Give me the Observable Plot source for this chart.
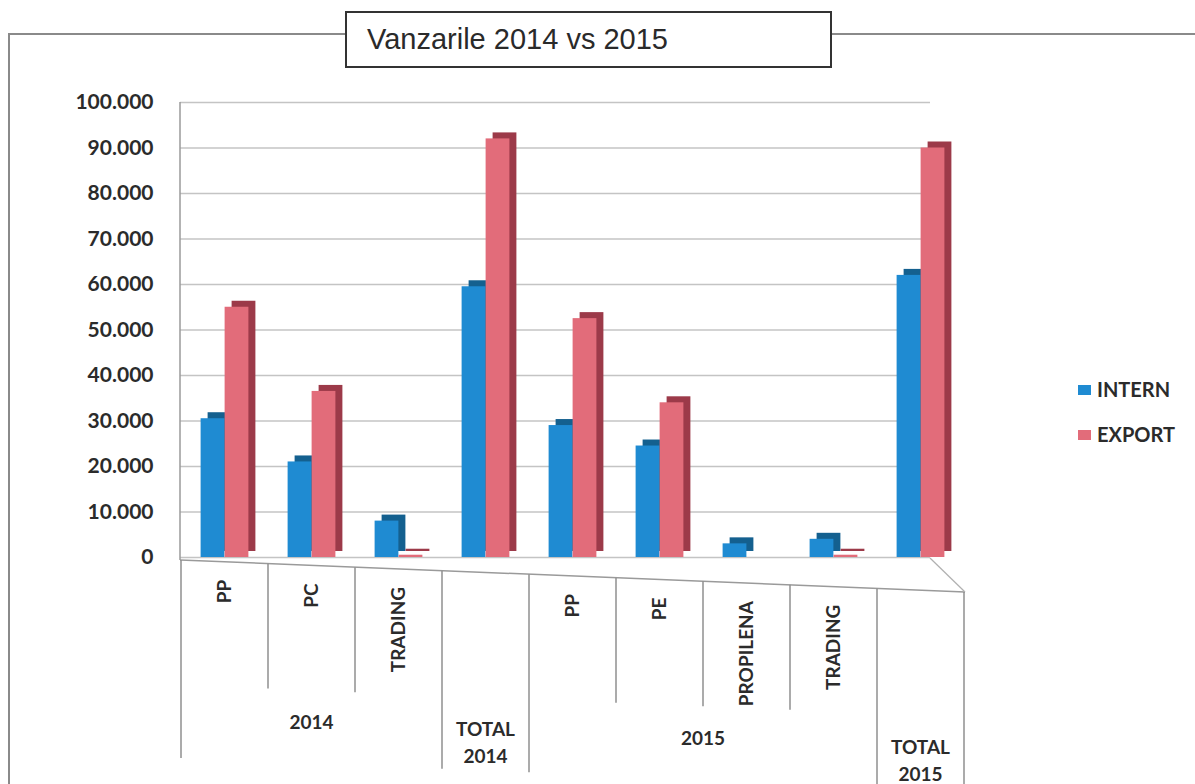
<!DOCTYPE html>
<html>
<head>
<meta charset="utf-8">
<script src="https://cdn.jsdelivr.net/npm/d3@7"></script>
<script src="https://cdn.jsdelivr.net/npm/@observablehq/plot@0.6"></script>
<style>
  body { margin: 0; background: #fff; }
  #wrap { position: relative; width: 1195px; height: 784px; overflow: hidden; font-family: Lato, sans-serif; }
  #chart { position: absolute; left: 0; top: 0; }
  #border { position: absolute; left: 8px; top: 33px; width: 1300px; height: 900px;
            border-left: 2px solid #8a8a8a; border-top: 2px solid #8a8a8a; }
  #title { position: absolute; left: 345px; top: 11px; width: 487px; height: 57px; box-sizing: border-box;
           border: 2px solid #333; background: #fff; font-family: "Liberation Sans", Arial, sans-serif;
           font-size: 29px; color: #2a2a2a; line-height: 52px; padding-left: 20px; }
  #legend { position: absolute; left: 1078px; top: 375px; font-family: Lato, sans-serif; font-weight: bold;
            font-size: 20px; color: #2b2b2b; }
  #legend div { height: 28px; line-height: 28px; margin-bottom: 17px; white-space: nowrap; }
  #legend span.sw { display: inline-block; width: 13px; height: 10px; margin-right: 6px; vertical-align: 2px; }
</style>
</head>
<body>
<div id="wrap">
  <div id="border"></div>
  <div id="chart"></div>
  <div id="title">Vanzarile 2014 vs 2015</div>
  <div id="legend"></div>
</div>
<script>
// ---- data ----
const groups = ["2014", "2014", "2014", "TOTAL 2014", "2015", "2015", "2015", "2015", "TOTAL 2015"];
const categories = ["PP", "PC", "TRADING", "", "PP", "PE", "PROPILENA", "TRADING", ""];
const intern = [30500, 21000, 8000, 59500, 29000, 24500, 3000, 4000, 62000];
const exportVals = [55000, 36500, 500, 92000, 52500, 34000, 0, 500, 90000];
const seriesNames = ["INTERN", "EXPORT"];
const yTicks = [0, 10000, 20000, 30000, 40000, 50000, 60000, 70000, 80000, 90000, 100000];

// ---- build ----
const keys = categories.map((c, i) => groups[i] + "|" + c + "|" + i);
const rows = keys.map((k, i) => ({key: k, intern: intern[i], export: exportVals[i]}));

const W = 1195, H = 784, ML = 180, MR = 230, MT = 102, MB = 227;
const step = (W - ML - MR) / keys.length;
const barW = 24, depthX = 7, depthY = 6;
const colors = {INTERN: "#1f8bd2", EXPORT: "#e26c7a"};
const dark = {INTERN: "#14608f", EXPORT: "#9c3a49"};
const fmt = d => d3.format(",")(d).replace(/,/g, ".");

function decorations(index, scales, values, dims) {
  const x = scales.x;
  const bw = x.bandwidth ? x.bandwidth() : step;
  const L = dims.marginLeft, R = dims.width - dims.marginRight;
  const y0 = dims.height - dims.marginBottom;
  const tilt = px => (px - L) / (R - L) * 32;
  const g = d3.create("svg:g");
  // vertical axis line
  g.append("line").attr("x1", L).attr("x2", L).attr("y1", dims.marginTop).attr("y2", y0 + 3)
    .attr("stroke", "#9a9a9a").attr("stroke-width", 1.5);
  // floor front edge
  g.append("line").attr("x1", L).attr("y1", y0 + 3).attr("x2", R).attr("y2", y0 + 3 + tilt(R))
    .attr("stroke", "#9a9a9a").attr("stroke-width", 1.5);
  g.append("line").attr("x1", R - 35).attr("y1", y0 + 1).attr("x2", R).attr("y2", y0 + 3 + tilt(R))
    .attr("stroke", "#b0b0b0").attr("stroke-width", 1.2);
  // dividers
  const bounds = keys.map((k, i) => ({px: x(k), major: i === 0 || groups[i] !== groups[i - 1]}));
  bounds.push({px: x(keys[keys.length - 1]) + bw, major: true});
  for (const b of bounds) {
    g.append("line").attr("x1", b.px).attr("x2", b.px)
      .attr("y1", y0 + 3 + tilt(b.px)).attr("y2", y0 + (b.major ? 201 : 128) + tilt(b.px))
      .attr("stroke", "#8f8f8f").attr("stroke-width", 1.5);
  }
  const tg = g.append("g").attr("font-family", "Lato, sans-serif").attr("font-weight", "bold")
    .attr("fill", "#2b2b2b").attr("font-size", 19);
  // category labels (rotated)
  keys.forEach((k, i) => {
    if (!categories[i]) return;
    const cx = x(k) + bw / 2;
    tg.append("text").attr("transform", `translate(${cx},${y0 + 21 + tilt(cx)}) rotate(-90)`)
      .attr("text-anchor", "end").attr("dy", "0.36em").text(categories[i]);
  });
  // group labels
  let start = 0;
  for (let i = 1; i <= keys.length; i++) {
    if (i === keys.length || groups[i] !== groups[start]) {
      const x1 = x(keys[start]), x2 = x(keys[i - 1]) + bw;
      const cx = (x1 + x2) / 2;
      const lines = groups[start].split(" ");
      lines.forEach((t, j) => {
        tg.append("text").attr("x", cx).attr("y", y0 + 160 + j * 27 + tilt(cx))
          .attr("text-anchor", "middle").attr("dy", "0.36em").text(t);
      });
      start = i;
    }
  }
  return g.node();
}

const chart = Plot.plot({
  width: W, height: H,
  marginLeft: ML, marginRight: MR, marginTop: MT, marginBottom: MB,
  style: {background: "transparent", fontFamily: "Lato, sans-serif", fontSize: "21px", color: "#2b2b2b"},
  x: {domain: keys, padding: 0, axis: null},
  y: {domain: [0, 100000]},
  marks: [
    Plot.ruleY(yTicks, {stroke: "#c4c4c4", strokeWidth: 1.5, insetRight: 35}),
    Plot.axisY({ticks: yTicks, tickFormat: fmt, tickSize: 0, tickPadding: 27, fontWeight: "bold", fill: "#2b2b2b", label: null}),
    decorations,
    Plot.barY(rows, {x: "key", y: "intern", fill: dark.INTERN, insetLeft: step / 2 - barW, insetRight: step / 2, dx: depthX, dy: -depthY}),
    Plot.barY(rows, {x: "key", y: "export", fill: dark.EXPORT, insetLeft: step / 2, insetRight: step / 2 - barW, dx: depthX, dy: -depthY}),
    Plot.barY(rows, {x: "key", y: "intern", fill: colors.INTERN, insetLeft: step / 2 - barW, insetRight: step / 2}),
    Plot.barY(rows, {x: "key", y: "export", fill: colors.EXPORT, insetLeft: step / 2, insetRight: step / 2 - barW})
  ]
});
document.getElementById("chart").appendChild(chart);

const legend = document.getElementById("legend");
for (const s of seriesNames) {
  const d = document.createElement("div");
  d.innerHTML = `<span class="sw" style="background:${colors[s]}"></span>${s}`;
  legend.appendChild(d);
}
</script>
</body>
</html>
